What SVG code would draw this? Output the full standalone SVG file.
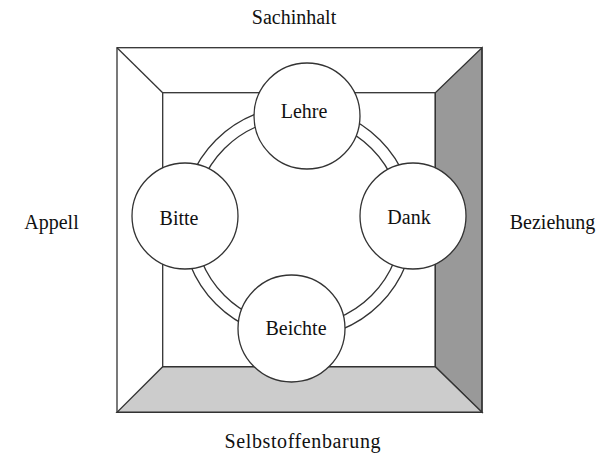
<svg xmlns="http://www.w3.org/2000/svg" width="614" height="459" viewBox="0 0 614 459">
<style>
.ln{fill:none;stroke:#333;stroke-width:1.3}
.node circle{fill:#fff;stroke:#333;stroke-width:1.3}
.t{font-size:20px;fill:#111;text-anchor:middle}
</style>
<rect width="614" height="459" fill="#fff"/>
<g id="frame">
<polygon points="482,47.7 482,412.3 435.3,366.7 435.3,92.7" fill="#999" stroke="#333" stroke-width="1.3"/>
<polygon points="117,412.3 482,412.3 435.3,366.7 162.7,366.7" fill="#ccc" stroke="#333" stroke-width="1.3"/>
<rect class="ln" x="117" y="47.7" width="365" height="364.6"/>
<rect class="ln" x="162.7" y="92.7" width="272.6" height="274"/>
<line class="ln" x1="117" y1="47.7" x2="162.7" y2="92.7"/>
</g>
<g id="connectors">
<circle class="ln" cx="298" cy="222" r="116"/>
<circle class="ln" cx="298" cy="222" r="104"/>
</g>
<g font-family="Liberation Serif, Times New Roman, serif">
<g id="node-lehre" class="node"><circle cx="307" cy="116" r="53"/><text class="t" x="304" y="118">Lehre</text></g>
<g id="node-bitte" class="node"><circle cx="185" cy="216" r="53"/><text class="t" x="179" y="225">Bitte</text></g>
<g id="node-dank" class="node"><circle cx="413" cy="216" r="53"/><text class="t" x="409" y="224">Dank</text></g>
<g id="node-beichte" class="node"><circle cx="291.5" cy="328.5" r="53.5"/><text class="t" x="296" y="335">Beichte</text></g>
<g id="labels">
<text class="t" x="294" y="24">Sachinhalt</text>
<text class="t" x="302.5" y="448" textLength="156" lengthAdjust="spacing">Selbstoffenbarung</text>
<text class="t" x="51.5" y="229">Appell</text>
<text class="t" x="552.5" y="229">Beziehung</text>
</g>
</g>
</svg>
